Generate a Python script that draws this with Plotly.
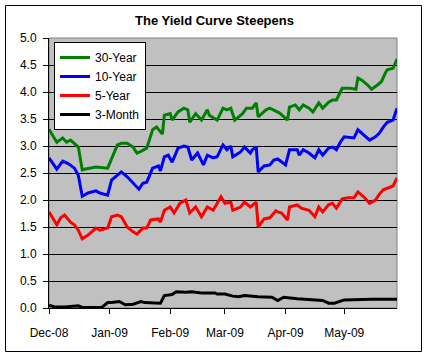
import plotly.graph_objects as go

# ---- data ----
dates_30y = ["2008-12-01","2008-12-05","2008-12-08","2008-12-10","2008-12-12","2008-12-14","2008-12-16","2008-12-18","2008-12-19","2008-12-25","2008-12-31",
             "2009-01-05","2009-01-07","2009-01-10","2009-01-13","2009-01-15","2009-01-17","2009-01-20","2009-01-23","2009-01-25","2009-01-27","2009-01-28","2009-01-29",
             "2009-02-01","2009-02-02","2009-02-05","2009-02-08","2009-02-10","2009-02-11","2009-02-14","2009-02-17","2009-02-20","2009-02-21","2009-02-25","2009-02-28",
             "2009-03-02","2009-03-04","2009-03-06","2009-03-10","2009-03-12","2009-03-15","2009-03-17","2009-03-18","2009-03-22","2009-03-24","2009-03-27","2009-03-29",
             "2009-04-02","2009-04-03","2009-04-06","2009-04-08","2009-04-10","2009-04-13","2009-04-15","2009-04-18","2009-04-20","2009-04-23","2009-04-25","2009-04-27","2009-04-29","2009-04-30",
             "2009-05-04","2009-05-07","2009-05-08","2009-05-10","2009-05-13","2009-05-15","2009-05-18","2009-05-20","2009-05-22","2009-05-23","2009-05-26","2009-05-28"]
vals_30y = [3.31,3.07,3.15,3.07,3.11,3.05,2.98,2.56,2.57,2.61,2.59,
            3.02,3.05,3.05,2.98,2.87,2.90,2.96,3.30,3.35,3.26,3.22,3.57,
            3.60,3.48,3.63,3.70,3.67,3.44,3.60,3.48,3.67,3.57,3.48,3.70,
            3.67,3.70,3.48,3.60,3.70,3.70,3.80,3.54,3.67,3.70,3.64,3.61,
            3.48,3.72,3.76,3.67,3.76,3.70,3.63,3.80,3.70,3.81,3.85,3.85,4.00,4.07,
            4.07,4.05,4.26,4.22,4.13,4.05,4.13,4.19,4.35,4.41,4.44,4.61]

dates_10y = ["2008-12-01","2008-12-05","2008-12-08","2008-12-11","2008-12-14","2008-12-16","2008-12-18","2008-12-21","2008-12-25","2008-12-27","2008-12-31",
             "2009-01-02","2009-01-05","2009-01-07","2009-01-10","2009-01-14","2009-01-16","2009-01-18","2009-01-20","2009-01-23","2009-01-26","2009-01-27","2009-01-29","2009-01-31",
             "2009-02-02","2009-02-05","2009-02-08","2009-02-10","2009-02-12","2009-02-15","2009-02-18","2009-02-20","2009-02-23","2009-02-25","2009-02-28",
             "2009-03-02","2009-03-04","2009-03-05","2009-03-09","2009-03-11","2009-03-14","2009-03-15","2009-03-17","2009-03-18","2009-03-21","2009-03-24","2009-03-26","2009-03-28","2009-03-30",
             "2009-04-01","2009-04-03","2009-04-07","2009-04-08","2009-04-10","2009-04-13","2009-04-16","2009-04-18","2009-04-20","2009-04-23","2009-04-25","2009-04-27","2009-04-29",
             "2009-05-01","2009-05-06","2009-05-08","2009-05-10","2009-05-14","2009-05-17","2009-05-19","2009-05-21","2009-05-23","2009-05-26","2009-05-28"]
vals_10y = [2.78,2.57,2.72,2.67,2.59,2.46,2.07,2.13,2.17,2.13,2.09,
            2.37,2.46,2.52,2.43,2.28,2.20,2.31,2.33,2.59,2.63,2.54,2.80,2.83,
            2.70,2.96,3.00,2.98,2.74,2.87,2.65,2.83,2.78,2.80,3.02,
            2.93,3.00,2.80,2.89,2.98,2.87,2.93,2.98,2.52,2.63,2.65,2.74,2.76,2.70,
            2.65,2.93,2.93,2.83,2.93,2.87,2.78,2.93,2.83,2.96,2.98,2.93,3.07,
            3.17,3.15,3.30,3.24,3.11,3.17,3.24,3.35,3.44,3.48,3.70]

dates_5y = ["2008-12-01","2008-12-05","2008-12-07","2008-12-09","2008-12-12","2008-12-14","2008-12-16","2008-12-18","2008-12-21","2008-12-25","2008-12-27","2008-12-31",
            "2009-01-02","2009-01-05","2009-01-07","2009-01-10","2009-01-13","2009-01-15","2009-01-18","2009-01-20","2009-01-22","2009-01-26","2009-01-27","2009-01-29",
            "2009-02-01","2009-02-03","2009-02-06","2009-02-09","2009-02-11","2009-02-14","2009-02-17","2009-02-20","2009-02-23","2009-02-27",
            "2009-03-01","2009-03-04","2009-03-05","2009-03-09","2009-03-11","2009-03-14","2009-03-17","2009-03-18","2009-03-21","2009-03-24","2009-03-27","2009-03-28","2009-03-30",
            "2009-04-02","2009-04-03","2009-04-07","2009-04-09","2009-04-13","2009-04-16","2009-04-18","2009-04-20","2009-04-23","2009-04-25","2009-04-27","2009-04-30",
            "2009-05-03","2009-05-06","2009-05-08","2009-05-11","2009-05-14","2009-05-17","2009-05-19","2009-05-21","2009-05-23","2009-05-26","2009-05-28"]
vals_5y = [1.78,1.54,1.67,1.72,1.59,1.54,1.44,1.28,1.35,1.48,1.44,1.48,
           1.69,1.72,1.69,1.50,1.41,1.37,1.48,1.48,1.63,1.65,1.59,1.81,
           1.87,1.76,1.94,2.00,1.76,1.87,1.69,1.87,1.81,2.06,
           1.94,1.96,1.81,1.87,1.96,1.87,1.96,1.50,1.65,1.67,1.80,1.78,1.76,
           1.63,1.87,1.91,1.85,1.81,1.69,1.87,1.78,1.91,1.94,1.85,2.02,
           2.04,2.04,2.15,2.06,1.94,2.00,2.11,2.19,2.22,2.26,2.41]

dates_3m = ["2008-12-01","2008-12-04","2008-12-09","2008-12-16","2008-12-18","2008-12-28","2008-12-31",
            "2009-01-02","2009-01-06","2009-01-09","2009-01-13","2009-01-17","2009-01-19","2009-01-27","2009-01-29",
            "2009-02-02","2009-02-04","2009-02-09","2009-02-12","2009-02-17","2009-02-24","2009-02-25",
            "2009-03-01","2009-03-05","2009-03-08","2009-03-11","2009-03-18","2009-03-25","2009-03-28","2009-03-31",
            "2009-04-07","2009-04-15","2009-04-20","2009-04-23","2009-04-26",
            "2009-05-01","2009-05-08","2009-05-15","2009-05-28"]
vals_3m = [0.05,0.02,0.02,0.04,0.01,0.01,0.10,
           0.10,0.12,0.06,0.07,0.12,0.10,0.09,0.23,
           0.25,0.30,0.29,0.30,0.28,0.28,0.26,
           0.26,0.22,0.21,0.23,0.21,0.20,0.14,0.20,
           0.17,0.15,0.14,0.09,0.09,
           0.15,0.16,0.16,0.16]

series_names = ["30-Year", "10-Year", "5-Year", "3-Month"]
series_colors = ["#008000", "#0000FF", "#FF0000", "#000000"]
tick_dates = ["2008-12-01","2009-01-01","2009-02-01","2009-03-01","2009-04-01","2009-05-01"]
tick_labels = ["Dec-08","Jan-09","Feb-09","Mar-09","Apr-09","May-09"]
y_ticks = [0.0,0.5,1.0,1.5,2.0,2.5,3.0,3.5,4.0,4.5,5.0]

FONT = "Liberation Sans, Arial, sans-serif"

fig = go.Figure()
for name, color, xs, ys in zip(series_names, series_colors,
                               [dates_30y, dates_10y, dates_5y, dates_3m],
                               [vals_30y, vals_10y, vals_5y, vals_3m]):
    fig.add_trace(go.Scatter(x=xs, y=ys, mode="lines", name=name,
                             line=dict(color=color, width=3)))

fig.update_layout(
    width=429, height=359,
    margin=dict(l=49, r=32, t=38, b=51, pad=0),
    paper_bgcolor="white", plot_bgcolor="#C0C0C0",
    font=dict(family=FONT, size=12, color="black"),
    title=dict(text="<b>The Yield Curve Steepens</b>", x=0.5, xanchor="center",
               y=1 - 20/359, yanchor="middle", font=dict(size=13, family=FONT)),
    showlegend=True,
    legend=dict(x=(54-49)/348, y=(308-42)/270, xanchor="left", yanchor="top",
                bgcolor="white", bordercolor="black", borderwidth=1,
                font=dict(size=12, family=FONT), itemwidth=30,
                tracegroupgap=0),
    xaxis=dict(type="date", range=["2008-12-01", "2009-05-28"],
               tickvals=tick_dates, ticktext=tick_labels,
               ticks="outside", ticklen=5, tickcolor="black", tickwidth=1,
               showline=True, linecolor="black", linewidth=1,
               showgrid=False, zeroline=False, ticklabelstandoff=9,
               tickfont=dict(size=12, family=FONT)),
    yaxis=dict(range=[0, 5], tickvals=y_ticks, tickformat=".1f",
               ticks="outside", ticklen=5, tickcolor="black", tickwidth=1,
               showline=True, linecolor="black", linewidth=1,
               showgrid=True, gridcolor="black", gridwidth=1, zeroline=False,
               ticklabelstandoff=4, tickfont=dict(size=12, family=FONT)),
)

# gray plot-area frame (top/right) and outer chart border
fig.add_shape(type="rect", xref="paper", yref="paper", x0=0, x1=1, y0=0, y1=1,
              line=dict(color="#808080", width=1), layer="below")
fig.add_shape(type="rect", xref="paper", yref="paper",
              x0=(5.5-49)/348, x1=(421.5-49)/348, y0=(308-351.5)/270, y1=(308-5.5)/270,
              line=dict(color="black", width=1), layer="above")

fig.write_html("out.html", config={"displayModeBar": False},
               post_script="document.body.style.margin='0';document.body.style.overflow='hidden';")
